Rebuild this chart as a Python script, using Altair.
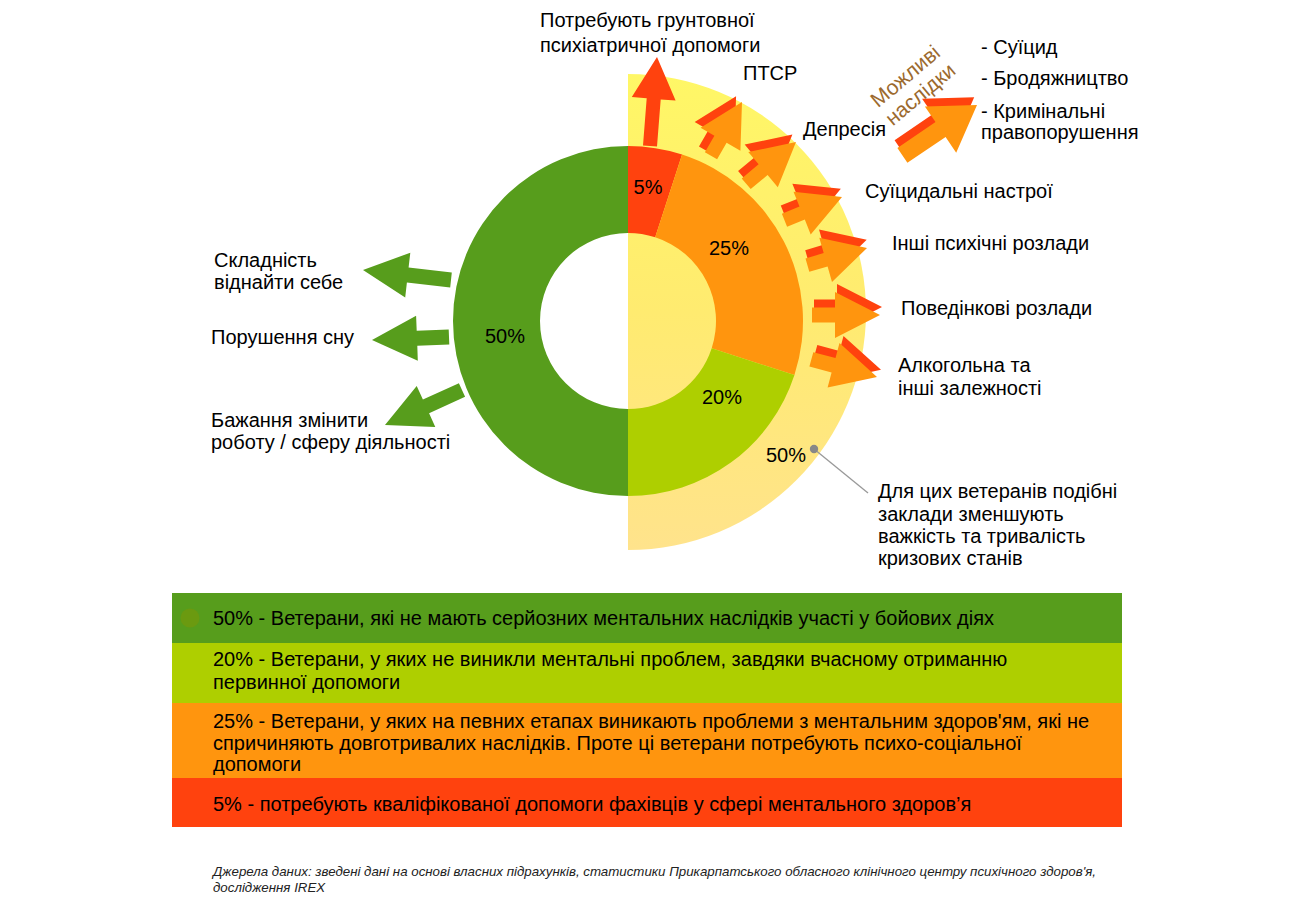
import math
import altair as alt
import pandas as pd

# ---------------- data ----------------
segment_labels = ["5%", "25%", "20%", "50%"]
segment_shares = [5, 25, 20, 50]
segment_colors = ["#FF420E", "#FF950E", "#AECF00", "#579D1C"]

outer_share = 50
outer_label = "50%"
outer_note = ["Для цих ветеранів подібні", "заклади зменшують",
              "важкість та тривалість", "кризових станів"]

top_label = ["Потребують грунтовної", "психіатричної допомоги"]
consequence_labels = [["ПТСР"], ["Депресія"], ["Суїцидальні настрої"],
                      ["Інші психічні розлади"], ["Поведінкові розлади"],
                      ["Алкогольна та", "інші залежності"]]
possible_title = ["Можливі", "наслідки"]
possible_items = ["- Суїцид", "- Бродяжництво", "- Кримінальні", "правопорушення"]
green_labels = [["Складність", "віднайти себе"], ["Порушення сну"],
                ["Бажання змінити", "роботу / сферу діяльності"]]

legend_lines = [
    ["50% - Ветерани, які не мають серйозних ментальних наслідків участі у бойових діях"],
    ["20% - Ветерани, у яких не виникли ментальні проблем, завдяки вчасному отриманню",
     "первинної допомоги"],
    ["25% - Ветерани, у яких на певних етапах виникають проблеми з ментальним здоров'ям, які не",
     "спричиняють довготривалих наслідків. Проте ці ветерани потребують психо-соціальної",
     "допомоги"],
    ["5% - потребують кваліфікованої допомоги фахівців у сфері ментального здоров’я"],
]
legend_colors = ["#579D1C", "#AECF00", "#FF950E", "#FF420E"]
footnote = ["Джерела даних: зведені дані на основі власних підрахунків, статистики Прикарпатського обласного клінічного центру психічного здоров'я,",
            "дослідження IREX"]

# ---------------- layout ----------------
W, H = 1284, 886
OX, OY = 8, 8
CX, CY, R_OUT, R_IN = 628, 321, 175, 88
HX, HY, HR = 628, 312, 238
FONT = "Liberation Sans"
FS = 20

xs = alt.Scale(domain=[OX, OX + W], nice=False, zero=False)
ys = alt.Scale(domain=[OY, OY + H], nice=False, zero=False, reverse=True)
ts = alt.Scale(domain=[0, 100], range=[0, 2 * math.pi])


def X(f):
    return alt.X(f"{f}:Q", scale=xs, axis=None)


def Y(f):
    return alt.Y(f"{f}:Q", scale=ys, axis=None)


# halo (half disc behind the donut)
halo_df = pd.DataFrame({"cx": [HX], "cy": [HY], "t0": [0], "t1": [outer_share]})
grad = alt.LinearGradient(gradient="linear", x1=0, y1=0, x2=0, y2=1,
                          stops=[alt.GradientStop(color="#FFF766", offset=0),
                                 alt.GradientStop(color="#FFEB70", offset=0.5),
                                 alt.GradientStop(color="#FFE38C", offset=1)])
halo = alt.Chart(halo_df).mark_arc(radius=HR, radius2=0, fill=grad).encode(
    x=X("cx"), y=Y("cy"),
    theta=alt.Theta("t0:Q", scale=ts), theta2="t1:Q")

# donut
cum = [0]
for s in segment_shares:
    cum.append(cum[-1] + s)
donut_df = pd.DataFrame({"cx": CX, "cy": CY, "t0": cum[:-1], "t1": cum[1:],
                         "color": segment_colors})
donut = alt.Chart(donut_df).mark_arc(radius=R_OUT, radius2=R_IN).encode(
    x=X("cx"), y=Y("cy"),
    theta=alt.Theta("t0:Q", scale=ts), theta2="t1:Q",
    fill=alt.Fill("color:N", scale=None))


# arrows as custom symbol paths (size 4 -> path units are pixels)
def arrow_path(tail, tip, sw, hw, hl):
    dx, dy = tip[0] - tail[0], tip[1] - tail[1]
    L = math.hypot(dx, dy)
    ux, uy = dx / L, dy / L
    nx, ny = -uy, ux
    tx, ty = tail[0] - tip[0], tail[1] - tip[1]
    bx, by = -ux * hl, -uy * hl
    pts = [(tx + nx * sw / 2, ty + ny * sw / 2), (bx + nx * sw / 2, by + ny * sw / 2),
           (bx + nx * hw / 2, by + ny * hw / 2), (0, 0),
           (bx - nx * hw / 2, by - ny * hw / 2), (bx - nx * sw / 2, by - ny * sw / 2),
           (tx - nx * sw / 2, ty - ny * sw / 2)]
    return "M" + " L".join(f"{px:.1f},{py:.1f}" for px, py in pts) + " Z"


arrow_rows = []
# green arrows (tail, tip)
green_arrows = [((451, 280), (363, 270)), ((449, 337), (372, 340)), ((462, 390), (385, 425))]
for tail, tip in green_arrows:
    arrow_rows.append({"x": tip[0], "y": tip[1], "color": "#579D1C",
                       "path": arrow_path(tail, tip, 15, 45, 45)})
# top red arrow
arrow_rows.append({"x": 657, "y": 57, "color": "#FF420E",
                   "path": arrow_path((650, 146), (657, 57), 14, 44, 42)})
# double arrows: tip, direction (deg clockwise from up), length, shaft, head w, head l
double_arrows = [((742, 102), 30, 62, 14, 46, 43), ((796, 142), 50, 65, 14, 46, 43),
                 ((842, 197), 68, 62, 14, 46, 43), ((867, 248), 74, 62, 14, 46, 43),
                 ((880, 315), 90, 68, 15, 46, 45), ((877, 377), 105, 68, 15, 46, 45),
                 ((977, 105), 56, 90, 18, 56, 44)]
for tip, ang, L, sw, hw, hl in double_arrows:
    ux, uy = math.sin(math.radians(ang)), -math.cos(math.radians(ang))
    lx, ly = uy, -ux
    tail = (tip[0] - ux * L, tip[1] - uy * L)
    ox, oy = lx * 8 + ux * 2, ly * 8 + uy * 2
    rtip = (tip[0] + ox, tip[1] + oy)
    rtail = (tail[0] + ox, tail[1] + oy)
    arrow_rows.append({"x": rtip[0], "y": rtip[1], "color": "#FF420E",
                       "path": arrow_path(rtail, rtip, sw, hw, hl)})
    arrow_rows.append({"x": tip[0], "y": tip[1], "color": "#FF950E",
                       "path": arrow_path(tail, tip, sw, hw, hl)})
arrows = alt.Chart(pd.DataFrame(arrow_rows)).mark_point(
    filled=True, opacity=1, strokeWidth=0, size=4).encode(
    x=X("x"), y=Y("y"),
    shape=alt.Shape("path:N", scale=None),
    fill=alt.Fill("color:N", scale=None))

# legend boxes
box_top = [593, 643, 703, 778]
box_bot = [643, 703, 778, 827]
box_df = pd.DataFrame({"x0": 172, "x1": 1122, "y0": box_top, "y1": box_bot,
                       "color": legend_colors})
boxes = alt.Chart(box_df).mark_rect().encode(
    x=X("x0"), x2="x1", y=Y("y0"), y2="y1", fill=alt.Fill("color:N", scale=None))
bullet = alt.Chart(pd.DataFrame({"x": [190], "y": [618]})).mark_circle(
    size=360, color="#6B9A10", opacity=1).encode(x=X("x"), y=Y("y"))

# leader line and dot
leader_df = pd.DataFrame({"x": [814], "y": [449], "x2": [868], "y2": [493]})
leader = alt.Chart(leader_df).mark_rule(color="#999999", strokeWidth=1.3).encode(
    x=X("x"), y=Y("y"), x2="x2", y2="y2")
dot = alt.Chart(leader_df).mark_circle(size=70, color="#888888", opacity=1).encode(
    x=X("x"), y=Y("y"))

# texts
left_rows = []


def add_lines(lines, x, ys_):
    for t, yy in zip(lines, ys_):
        left_rows.append({"x": x, "y": yy, "text": t})


add_lines(top_label, 540, [21, 46])
cons_pos = [(743, [74]), (803, [130]), (865, [192]), (892, [244]), (901, [309]),
            (898, [366, 389])]
for lines, (x, yy) in zip(consequence_labels, cons_pos):
    add_lines(lines, x, yy)
add_lines(possible_items, 981, [48, 79, 112, 133])
green_pos = [(214, [261, 283]), (211, [338]), (211, [421, 443])]
for lines, (x, yy) in zip(green_labels, green_pos):
    add_lines(lines, x, yy)
add_lines(outer_note, 878, [492, 515, 537, 559])
legend_pos = [[619], [660, 683], [722, 744, 765], [805]]
for lines, yy in zip(legend_lines, legend_pos):
    add_lines(lines, 213, yy)
left_text = alt.Chart(pd.DataFrame(left_rows)).mark_text(
    align="left", baseline="middle", font=FONT, fontSize=FS, color="#000000").encode(
    x=X("x"), y=Y("y"), text="text:N")

pct_df = pd.DataFrame({"x": [648, 729, 722, 505, 786], "y": [188, 249, 398, 337, 456],
                       "text": segment_labels + [outer_label]})
pct_text = alt.Chart(pct_df).mark_text(
    align="center", baseline="middle", font=FONT, fontSize=FS, color="#000000").encode(
    x=X("x"), y=Y("y"), text="text:N")

poss_df = pd.DataFrame({"x": [906, 921], "y": [77, 95], "text": possible_title})
poss_text = alt.Chart(poss_df).mark_text(
    align="center", baseline="middle", font=FONT, fontSize=21, angle=320,
    color="#9C6A2E").encode(x=X("x"), y=Y("y"), text="text:N")

foot_df = pd.DataFrame({"x": [213, 213], "y": [872, 888], "text": footnote})
foot_text = alt.Chart(foot_df).mark_text(
    align="left", baseline="middle", font=FONT, fontSize=13.3, fontStyle="italic",
    color="#222222").encode(x=X("x"), y=Y("y"), text="text:N")

chart = alt.layer(
    halo, donut, arrows, boxes, bullet, leader, dot,
    left_text, pct_text, poss_text, foot_text
).properties(
    width=W, height=H, padding=0,
    autosize=alt.AutoSizeParams(type="none")
).configure_view(stroke=None)

chart.save("out.html", embed_options={"renderer": "svg", "actions": False})
